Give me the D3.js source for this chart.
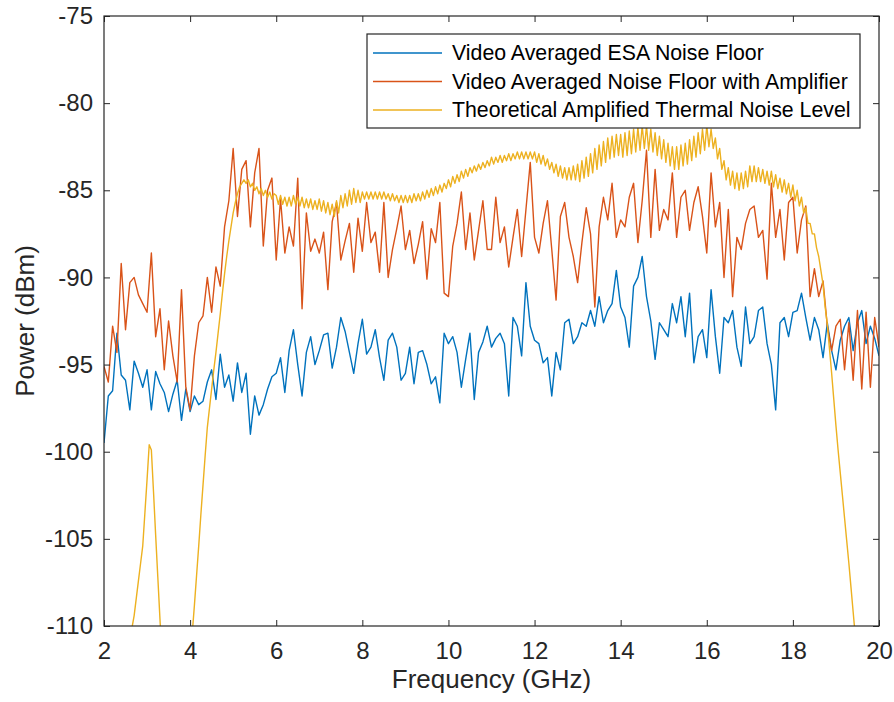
<!DOCTYPE html>
<html><head><meta charset="utf-8">
<script src="https://cdn.jsdelivr.net/npm/d3@7"></script>
<style>body{margin:0;background:#fff}svg{display:block}</style>
</head><body><svg id="c" width="894" height="702"></svg>
<script>
// ---------- data ----------
const freqStart = 2, freqEnd = 20;
const coarseStep = 0.1;   // GHz spacing of the two measured traces
const fineStep = 0.05;    // GHz spacing of the theoretical trace
const xTicks = [2, 4, 6, 8, 10, 12, 14, 16, 18, 20];
const yTicks = [-110, -105, -100, -95, -90, -85, -80, -75];
const seriesNames = [
  "Video Averaged ESA Noise Floor",
  "Video Averaged Noise Floor with Amplifier",
  "Theoretical Amplified Thermal Noise Level"
];
const xLabel = "Frequency (GHz)";
const yLabel = "Power (dBm)";

const esaNoise = [
  -99.5,-96.8,-96.5,-93.2,-95.6,-95.9,-97.6,-94.8,-95.5,-96.3,
  -95.3,-97.6,-95.4,-96.1,-96.6,-97.7,-96.7,-95.9,-98.2,-96.4,
  -97.7,-96.8,-97.3,-97.1,-96.0,-95.3,-97.0,-94.4,-96.3,-95.6,
  -97.1,-94.9,-96.6,-95.5,-99.0,-96.8,-97.9,-97.3,-96.4,-95.7,
  -95.5,-94.6,-96.6,-94.2,-93.0,-95.0,-96.8,-94.3,-93.4,-95.0,
  -94.2,-93.3,-93.2,-95.2,-94.0,-92.3,-93.1,-94.3,-95.5,-93.8,
  -92.4,-94.4,-94.0,-93.0,-94.6,-95.9,-93.6,-93.2,-94.0,-95.9,
  -95.5,-94.0,-96.1,-94.3,-94.2,-95.0,-96.1,-95.7,-97.2,-93.2,
  -93.8,-93.4,-94.3,-96.3,-94.7,-93.2,-97.0,-94.3,-93.7,-92.8,
  -94.0,-93.5,-93.2,-93.8,-96.8,-92.3,-92.8,-94.5,-90.3,-92.8,
  -93.6,-93.8,-94.9,-94.6,-96.8,-94.3,-95.3,-92.6,-92.4,-93.8,
  -93.4,-92.6,-92.8,-91.9,-92.8,-91.1,-92.6,-91.9,-91.5,-89.6,
  -91.7,-92.3,-94.0,-90.5,-90.0,-88.8,-91.1,-92.5,-94.7,-92.6,
  -93.0,-93.4,-91.5,-92.6,-91.1,-93.4,-90.9,-94.9,-93.4,-93.0,
  -94.6,-90.7,-93.4,-95.5,-92.3,-92.6,-91.9,-94.0,-95.1,-91.7,
  -93.8,-93.4,-91.9,-91.7,-93.8,-95.0,-97.6,-92.6,-92.3,-93.4,
  -92.0,-91.9,-90.9,-92.3,-93.6,-92.3,-93.0,-94.6,-92.6,-94.2,
  -95.3,-93.6,-92.8,-92.3,-94.2,-92.6,-91.9,-93.8,-92.8,-93.5,
  -94.5
];

const ampNoise = [
  -95.1,-96.0,-92.8,-94.3,-89.2,-93.0,-90.3,-90.0,-91.0,-91.5,
  -92.0,-88.6,-93.4,-91.8,-95.3,-92.5,-94.5,-96.0,-90.7,-96.3,
  -97.6,-94.5,-92.6,-92.2,-90.0,-92.0,-89.4,-90.5,-87.1,-85.6,
  -82.6,-86.5,-83.8,-83.3,-87.1,-84.0,-82.6,-88.2,-85.0,-84.3,
  -89.0,-85.5,-88.6,-87.1,-88.2,-84.3,-91.8,-86.3,-88.5,-87.8,
  -88.6,-87.4,-90.7,-86.8,-85.7,-89.0,-87.9,-86.9,-89.7,-86.6,
  -88.5,-85.7,-88.0,-87.4,-89.7,-85.7,-90.0,-88.4,-87.2,-85.9,
  -88.4,-87.3,-89.2,-88.1,-86.8,-90.1,-87.2,-88.0,-85.7,-90.9,
  -91.1,-88.2,-86.9,-85.1,-88.4,-86.3,-89.0,-87.3,-85.6,-88.4,
  -88.4,-85.4,-88.0,-87.1,-89.4,-87.7,-86.1,-88.8,-86.1,-83.4,
  -87.7,-88.6,-86.9,-85.6,-88.4,-91.3,-86.5,-85.7,-87.7,-88.8,
  -90.3,-88.0,-86.0,-87.5,-91.7,-87.1,-85.4,-86.7,-84.6,-87.7,
  -86.7,-87.1,-85.4,-84.6,-88.0,-85.6,-82.7,-87.7,-83.8,-87.3,
  -86.1,-86.7,-84.0,-87.7,-85.4,-85.0,-87.3,-85.7,-84.8,-86.5,
  -88.6,-84.0,-87.1,-85.7,-90.0,-86.1,-91.1,-87.7,-88.4,-86.9,
  -86.1,-85.9,-87.7,-87.3,-90.1,-84.6,-87.7,-86.1,-89.0,-85.7,
  -85.4,-88.6,-86.7,-85.9,-91.1,-89.5,-91.1,-90.2,-92.8,-94.2,
  -92.8,-92.4,-95.3,-92.6,-95.9,-91.9,-96.4,-92.0,-96.3,-92.3,
  -94.0
];

const theoryLevel = [
  -130,-128,-126,-124,-122,-120,-118.5,-117,-115.5,-114.2,-113,-111.9,-110.9,-110.1,-109.4,-108.4,-107.4,-106.4,-105.4,-103.5,
  -101.6,-99.6,-99.9,-102.3,-104.8,-107.2,-109.6,-112.0,-114.2,-116.2,-118,-119.4,-120.2,-120.4,-120,-118.8,-117.2,-115.6,-114,-112.4,
  -111.2,-110.4,-108.8,-107.1,-105.4,-103.6,-101.9,-100.2,-98.6,-97.5,-96.4,-95.3,-94.3,-93.2,-92.1,-90.9,-89.8,-88.8,-87.9,-87.1,
  -86.3,-85.7,-85.2,-84.8,-84.6,-84.4,-84.6,-84.4,-84.8,-84.6,-85.0,-84.8,-85.2,-84.9,-85.3,-85.0,-85.4,-85.1,-85.5,-85.2,
  -85.3,-85.8,-85.3,-85.8,-85.4,-85.9,-85.4,-85.9,-85.3,-85.8,-85.4,-85.9,-85.4,-86.0,-85.5,-86.0,-85.5,-86.1,-85.6,-86.1,
  -85.5,-86.2,-85.6,-86.3,-85.7,-86.4,-85.8,-86.5,-85.6,-86.3,-85.3,-86.0,-85.2,-85.9,-85.0,-85.8,-84.9,-85.7,-85.0,-85.7,
  -85.1,-85.5,-85.1,-85.5,-85.1,-85.5,-85.1,-85.5,-85.1,-85.5,-85.1,-85.5,-85.2,-85.6,-85.2,-85.6,-85.3,-85.7,-85.3,-85.7,
  -85.3,-85.7,-85.3,-85.7,-85.2,-85.6,-85.2,-85.6,-85.1,-85.5,-85.0,-85.4,-84.9,-85.3,-84.8,-85.2,-84.7,-85.1,-84.6,-84.9,
  -84.4,-84.8,-84.2,-84.6,-84.1,-84.5,-83.9,-84.3,-83.8,-84.2,-83.7,-84.0,-83.6,-83.9,-83.5,-83.8,-83.4,-83.7,-83.3,-83.6,
  -83.1,-83.5,-83.1,-83.4,-83.0,-83.4,-83.0,-83.3,-82.9,-83.3,-82.9,-83.2,-82.8,-83.2,-82.8,-83.2,-82.8,-83.2,-82.8,-83.2,
  -82.8,-83.4,-82.9,-83.5,-83.0,-83.6,-83.2,-83.8,-83.4,-84.0,-83.5,-84.2,-83.6,-84.3,-83.7,-84.4,-83.7,-84.4,-83.6,-84.4,
  -83.5,-84.5,-83.3,-84.3,-83.1,-84.2,-82.9,-84.0,-82.6,-83.8,-82.4,-83.6,-82.2,-83.4,-82.0,-83.2,-81.9,-83.1,-81.8,-83.0,
  -81.8,-83.1,-81.7,-83.0,-81.6,-82.9,-81.5,-82.8,-81.4,-82.7,-81.3,-82.6,-81.3,-82.7,-81.5,-82.8,-81.7,-83.0,-81.9,-83.2,
  -82.1,-83.4,-82.3,-83.6,-82.5,-83.8,-82.5,-83.8,-82.4,-83.6,-82.3,-83.5,-82.1,-83.3,-81.9,-83.1,-81.7,-82.9,-81.5,-82.7,
  -81.3,-82.5,-81.5,-82.6,-82.0,-83.2,-82.6,-83.8,-83.3,-84.4,-83.7,-84.7,-83.9,-84.9,-84.0,-85.0,-84.0,-84.9,-83.9,-84.8,
  -83.6,-84.5,-83.6,-84.5,-83.7,-84.5,-83.8,-84.6,-83.9,-84.7,-83.9,-84.8,-84.1,-84.9,-84.3,-85.1,-84.4,-85.2,-84.6,-85.4,
  -84.7,-85.6,-85.0,-85.9,-85.4,-86.3,-86.0,-86.9,-86.9,-87.5,-87.5,-88.3,-88.8,-89.6,-90.4,-91.7,-92.7,-94.1,-95.5,-97.0,
  -98.5,-99.9,-101.2,-102.5,-103.8,-105.1,-106.4,-107.8,-109.2,-110.6,-112,-113.5,-115,-116.5,-118,-119.5,-121,-122.5,-124,-125.5,
  -127
];

const colors = ["#0072BD", "#D95319", "#EDB120"];

// ---------- drawing ----------
const W = 894, H = 702;
const plot = {left: 104, right: 879, top: 16, bottom: 626};
const axisColor = "#262626";
const font = "'Liberation Sans', Arial, Helvetica, sans-serif";

const svg = d3.select("#c");
svg.append("rect").attr("width", W).attr("height", H).attr("fill", "#fff");

const x = d3.scaleLinear().domain([freqStart, freqEnd]).range([plot.left, plot.right]);
const y = d3.scaleLinear().domain([yTicks[0], yTicks[yTicks.length - 1]]).range([plot.bottom, plot.top]);

svg.append("defs").append("clipPath").attr("id", "clip").append("rect")
  .attr("x", plot.left).attr("y", plot.top)
  .attr("width", plot.right - plot.left).attr("height", plot.bottom - plot.top);

const coarseFreq = esaNoise.map((_, i) => freqStart + i * coarseStep);
const fineFreq = theoryLevel.map((_, i) => freqStart + i * fineStep);

const series = [
  {name: seriesNames[0], color: colors[0], f: coarseFreq, v: esaNoise},
  {name: seriesNames[1], color: colors[1], f: coarseFreq, v: ampNoise},
  {name: seriesNames[2], color: colors[2], f: fineFreq, v: theoryLevel}
];

const line = d3.line().x(d => x(d[0])).y(d => y(d[1]));
const gLines = svg.append("g").attr("clip-path", "url(#clip)");
series.forEach(s => {
  gLines.append("path")
    .datum(s.f.map((f, i) => [f, s.v[i]]))
    .attr("fill", "none")
    .attr("stroke", s.color)
    .attr("stroke-width", 1.4)
    .attr("stroke-linejoin", "round")
    .attr("d", line);
});

function styleAxis(g) {
  g.select(".domain").remove();
  g.selectAll(".tick line").attr("stroke", axisColor).attr("stroke-width", 1);
  g.selectAll(".tick text").attr("fill", axisColor).attr("font-family", font).attr("font-size", 24);
}

svg.append("g").attr("transform", `translate(0,${plot.bottom})`)
  .call(d3.axisBottom(x).tickValues(xTicks).tickSizeInner(-6).tickSizeOuter(0).tickPadding(16).tickFormat(d => String(d)))
  .call(styleAxis);
svg.append("g").attr("transform", `translate(0,${plot.top})`)
  .call(d3.axisTop(x).tickValues(xTicks).tickSizeInner(-6).tickSizeOuter(0).tickFormat(""))
  .call(styleAxis);
svg.append("g").attr("transform", `translate(${plot.left},0)`)
  .call(d3.axisLeft(y).tickValues(yTicks).tickSizeInner(-6).tickSizeOuter(0).tickPadding(11).tickFormat(d => String(d)))
  .call(styleAxis);
svg.append("g").attr("transform", `translate(${plot.right},0)`)
  .call(d3.axisRight(y).tickValues(yTicks).tickSizeInner(-6).tickSizeOuter(0).tickFormat(""))
  .call(styleAxis);

svg.append("rect")
  .attr("x", plot.left).attr("y", plot.top)
  .attr("width", plot.right - plot.left).attr("height", plot.bottom - plot.top)
  .attr("fill", "none").attr("stroke", axisColor).attr("stroke-width", 1.2);

// axis labels
svg.append("text")
  .attr("x", (plot.left + plot.right) / 2).attr("y", 688)
  .attr("text-anchor", "middle").attr("fill", axisColor)
  .attr("font-family", font).attr("font-size", 26)
  .text(xLabel);
svg.append("text")
  .attr("transform", `translate(34,${(plot.top + plot.bottom) / 2}) rotate(-90)`)
  .attr("text-anchor", "middle").attr("fill", axisColor)
  .attr("font-family", font).attr("font-size", 26)
  .text(yLabel);

// legend
const leg = {x: 367, y: 34, w: 493, h: 94, rowY: [53, 81.5, 110]};
const gLeg = svg.append("g");
gLeg.append("rect").attr("x", leg.x).attr("y", leg.y).attr("width", leg.w).attr("height", leg.h)
  .attr("fill", "#fff").attr("stroke", axisColor).attr("stroke-width", 1.2);
series.forEach((s, i) => {
  const ry = leg.rowY[i];
  gLeg.append("line").attr("x1", leg.x + 6).attr("x2", leg.x + 75)
    .attr("y1", ry).attr("y2", ry).attr("stroke", s.color).attr("stroke-width", 1.3);
  gLeg.append("text").attr("x", leg.x + 85).attr("y", ry)
    .attr("dominant-baseline", "central").attr("fill", "#000")
    .attr("font-family", font).attr("font-size", 21.3)
    .text(s.name);
});
</script>
</body></html>
